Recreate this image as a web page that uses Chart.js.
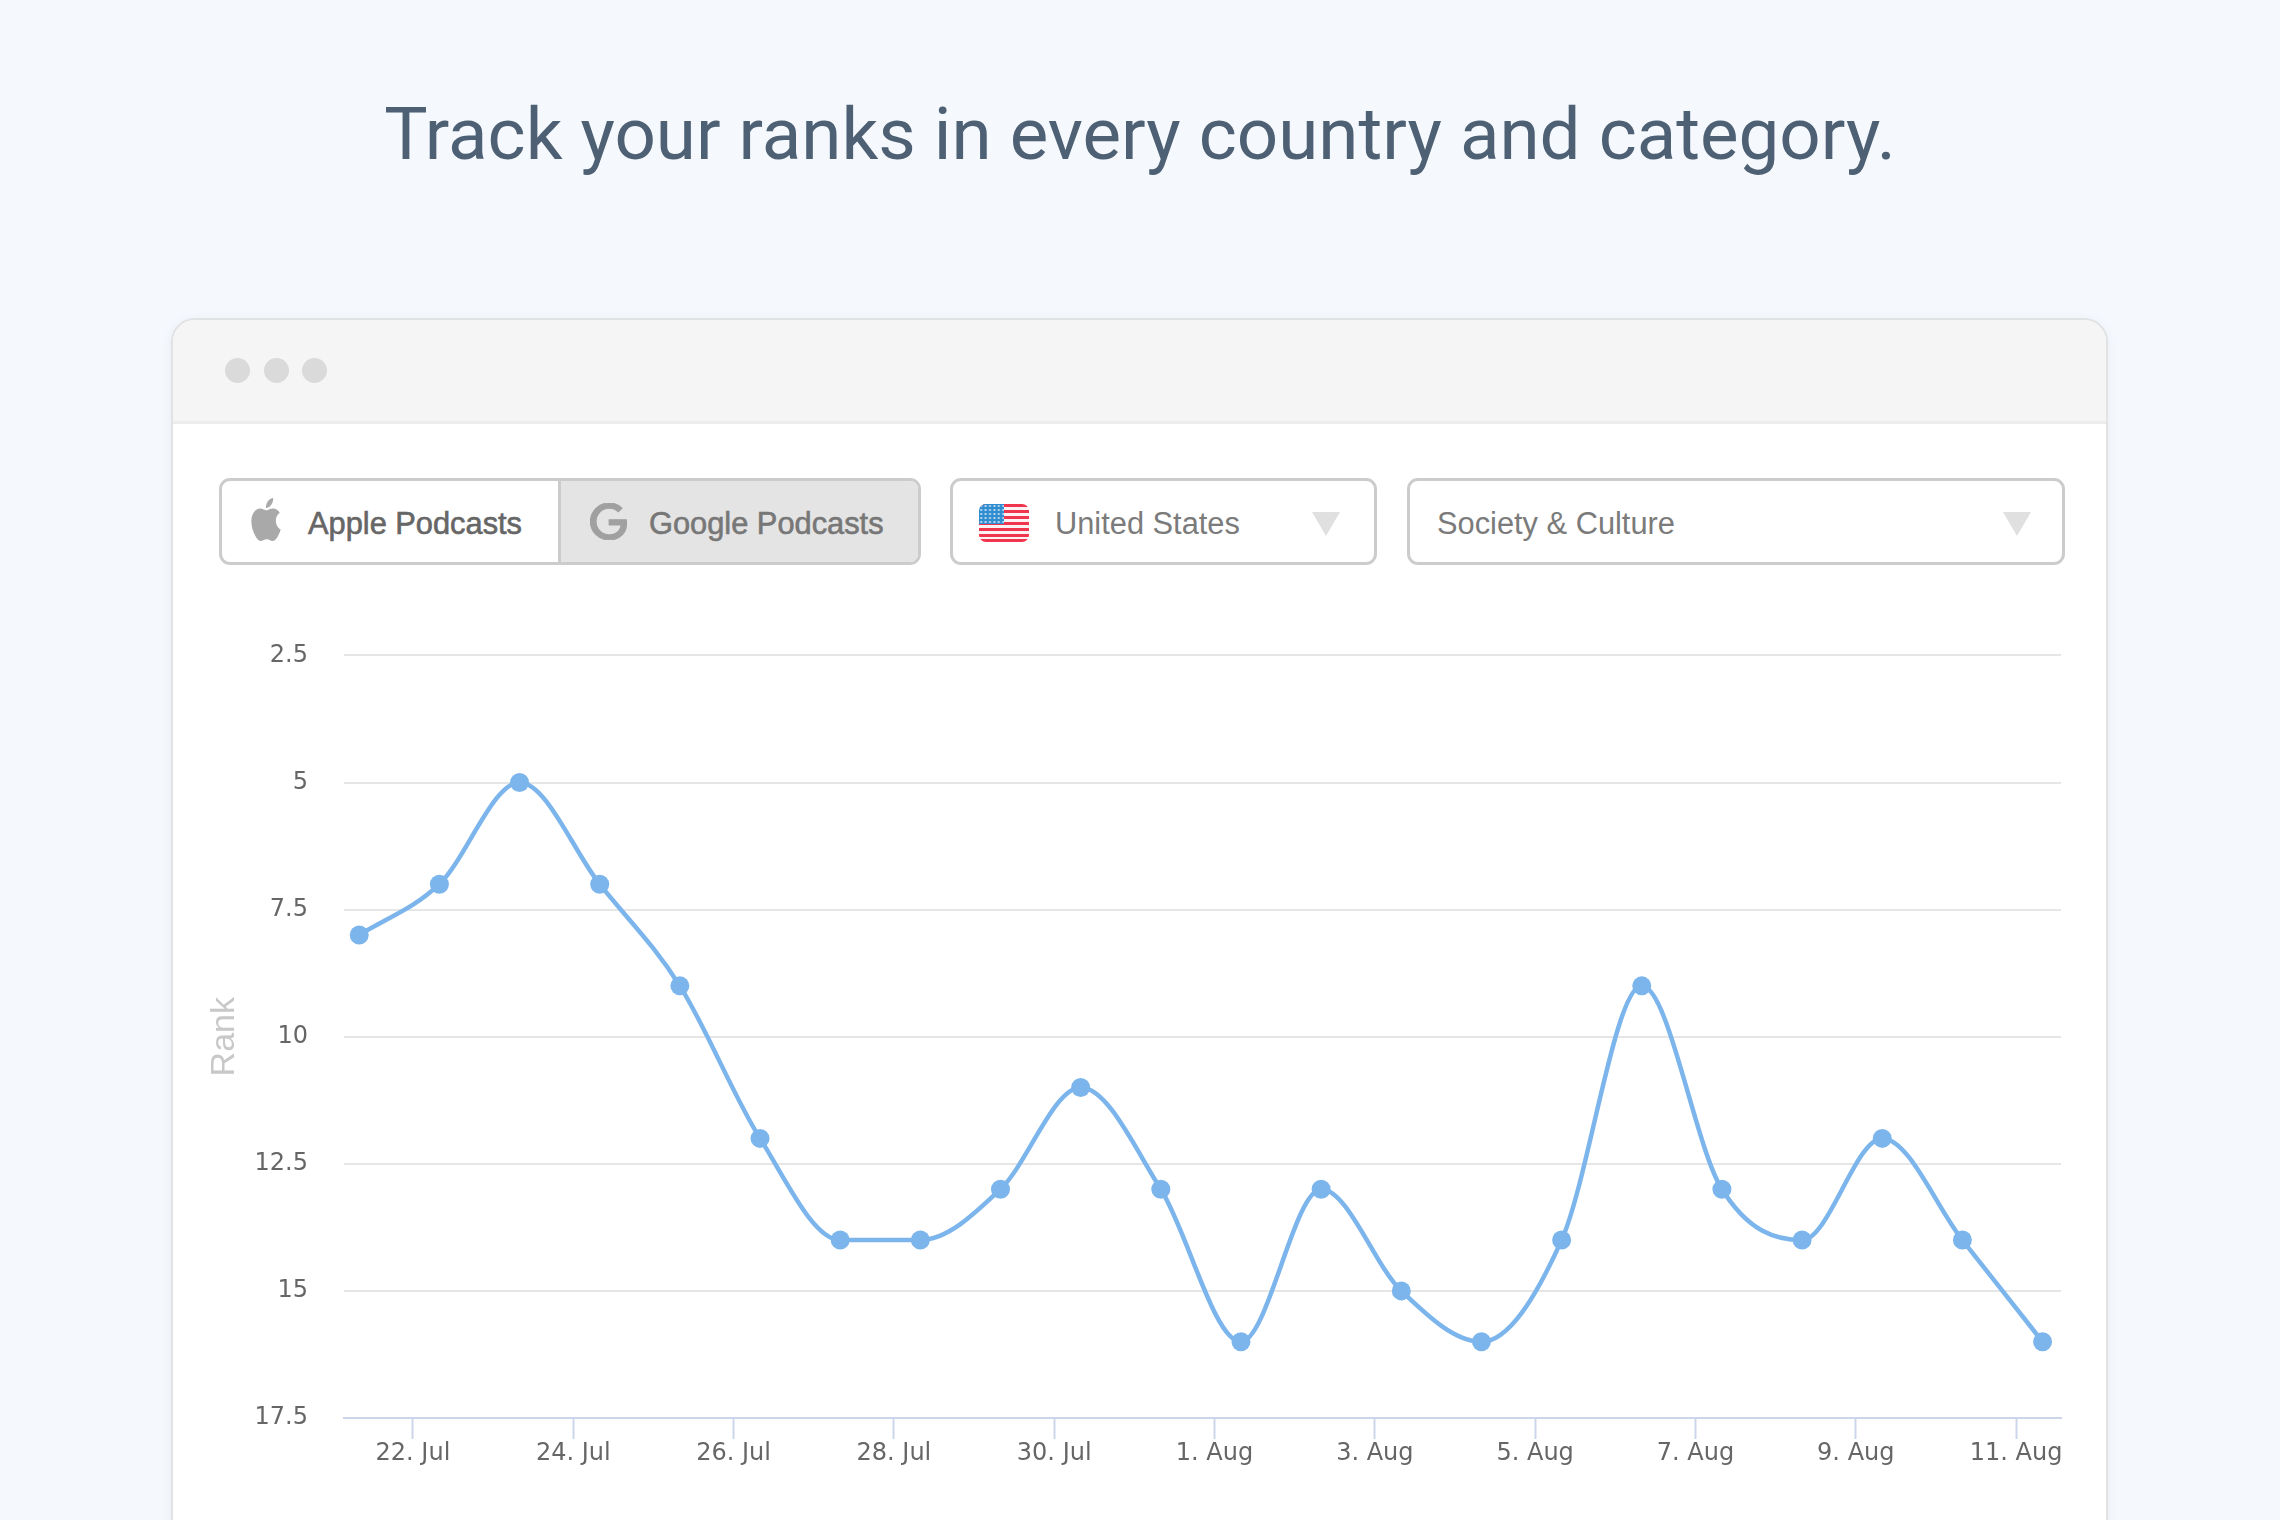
<!DOCTYPE html>
<html>
<head>
<meta charset="utf-8">
<title>Track your ranks</title>
<script src="https://cdn.jsdelivr.net/npm/chart.js@4"></script>
<style>
html, body { margin: 0; padding: 0; width: 2280px; height: 1520px; overflow: hidden; background: #f5f8fd; }
div, svg, canvas, h1 { position: absolute; box-sizing: border-box; }
#headline { left: 0; width: 2280px; top: 91px; margin: 0; text-align: center; font: 400 72.7px/88px Roboto, sans-serif; color: #4d6074; }
#frame { left: 171px; top: 318px; width: 1937px; height: 1300px; background: #fff; border: 2px solid #e0e2e4; border-radius: 24px; box-shadow: 0 2px 10px rgba(120,140,170,.10); overflow: hidden; }
#titlebar { left: 0; top: 0; width: 100%; height: 104px; background: #f5f5f5; border-bottom: 3px solid #ececec; }
.dot { width: 25px; height: 25px; top: 38px; border-radius: 50%; background: #dadada; }
.box { top: 478px; height: 87px; border: 3px solid #cccccc; border-radius: 11px; background: #fff; }
.label { top: 0; height: 81px; line-height: 84px; white-space: nowrap; }
.podcast { font: 400 30.8px/84px "Liberation Sans", sans-serif; -webkit-text-stroke: 0.6px currentColor; }
.select { font: 400 30.8px/84px "Liberation Sans", sans-serif; color: #7b7b7b; }
.arrow { width: 28px; height: 24px; top: 31px; }
#chartBox { left: 200px; top: 605px; width: 1880px; height: 915px; }
</style>
</head>
<body>
<h1 id="headline">Track your ranks in every country and category.</h1>

<div id="frame">
  <div id="titlebar">
    <div class="dot" style="left:52px"></div>
    <div class="dot" style="left:91px"></div>
    <div class="dot" style="left:129px"></div>
  </div>
</div>

<div class="box" style="left:219px;width:702px;overflow:hidden">
  <div style="left:336px;top:0;width:363px;height:81px;background:#e4e4e4;border-left:3px solid #cccccc"></div>
  <svg style="left:26px;top:17px" width="36" height="43" viewBox="0 0 24 24" preserveAspectRatio="none"><path fill="#a9a9a9" d="M12.152 6.896c-.948 0-2.415-1.078-3.96-1.04-2.04.027-3.91 1.183-4.961 3.014-2.117 3.675-.546 9.103 1.519 12.09 1.013 1.454 2.208 3.09 3.792 3.039 1.52-.065 2.09-.987 3.935-.987 1.831 0 2.35.987 3.96.948 1.637-.026 2.676-1.48 3.676-2.948 1.156-1.688 1.636-3.325 1.662-3.415-.039-.013-3.182-1.221-3.22-4.857-.026-3.04 2.48-4.494 2.597-4.559-1.429-2.09-3.623-2.324-4.39-2.376-2-.156-3.675 1.09-4.61 1.09zM15.53 3.83c.843-1.012 1.4-2.427 1.245-3.83-1.207.052-2.662.805-3.532 1.818-.78.896-1.454 2.338-1.273 3.714 1.338.104 2.715-.688 3.559-1.701"/></svg>
  <div class="label podcast" style="left:86px;top:1px;color:#666">Apple Podcasts</div>
  <svg style="left:368px;top:22px" width="37" height="37" viewBox="0 0 24 24"><path fill="#a0a0a0" stroke="#a0a0a0" stroke-width=".8" d="M12.48 10.92v3.28h7.84c-.24 1.84-.853 3.187-1.787 4.133-1.147 1.147-2.933 2.4-6.053 2.4-4.827 0-8.6-3.893-8.6-8.72s3.773-8.72 8.6-8.72c2.6 0 4.507 1.027 5.907 2.347l2.307-2.307C18.747 1.44 16.133 0 12.48 0 5.867 0 .307 5.387.307 12s5.56 12 12.173 12c3.573 0 6.267-1.173 8.373-3.36 2.16-2.16 2.84-5.213 2.84-7.667 0-.76-.053-1.467-.173-2.053H12.48z"/></svg>
  <div class="label podcast" style="left:427px;top:1px;color:#777">Google Podcasts</div>
</div>

<div class="box" style="left:950px;width:427px">
  <svg style="left:26px;top:23px" width="50" height="38" viewBox="0 0 50 38">
    <defs>
      <clipPath id="flagClip"><rect width="50" height="38" rx="7"/></clipPath>
      <pattern id="stars" width="4.4" height="4" patternUnits="userSpaceOnUse"><circle cx="2.2" cy="2" r="1.1" fill="#cfe4f5"/></pattern>
    </defs>
    <g clip-path="url(#flagClip)">
      <rect width="50" height="38" fill="#fdf2f3"/>
      <rect y="0" width="50" height="3" fill="#f0354f"/>
      <rect y="6" width="50" height="3" fill="#f0354f"/>
      <rect y="12" width="50" height="3" fill="#f0354f"/>
      <rect y="18" width="50" height="3" fill="#f0354f"/>
      <rect y="24" width="50" height="3" fill="#f0354f"/>
      <rect y="30" width="50" height="3" fill="#f0354f"/>
      <rect y="35" width="50" height="3" fill="#f0354f"/>
      <rect width="25" height="20" fill="#2f8dd0"/>
      <rect width="25" height="20" fill="url(#stars)"/>
    </g>
  </svg>
  <div class="label select" style="left:102px;top:1px">United States</div>
  <svg class="arrow" style="left:359px" viewBox="0 0 28 24"><path fill="#e0e0e0" d="M0 0H28L14 24Z"/></svg>
</div>

<div class="box" style="left:1407px;width:658px">
  <div class="label select" style="left:27px;top:1px">Society &amp; Culture</div>
  <svg class="arrow" style="left:593px" viewBox="0 0 28 24"><path fill="#e0e0e0" d="M0 0H28L14 24Z"/></svg>
</div>

<div id="chartBox"><canvas id="rankChart" width="1880" height="915"></canvas></div>

<script>
// days counted from 22 Jul, points sit a bit before the midnight ticks
const pointDays = [-0.67, 0.33, 1.33, 2.33, 3.33, 4.33, 5.33, 6.33, 7.33, 8.33, 9.33, 10.33, 11.33, 12.33, 13.33, 14.33, 15.33, 16.33, 17.33, 18.33, 19.33, 20.33];
const ranks = [8, 7, 5, 7, 9, 12, 14, 14, 13, 11, 13, 16, 13, 15, 16, 14, 9, 13, 14, 12, 14, 16];

const tickDays = [0, 2, 4, 6, 8, 10, 12, 14, 16, 18, 20];
const tickLabels = ["22. Jul", "24. Jul", "26. Jul", "28. Jul", "30. Jul", "1. Aug", "3. Aug", "5. Aug", "7. Aug", "9. Aug", "11. Aug"];
const rankTicks = [2.5, 5, 7.5, 10, 12.5, 15, 17.5];

const tickFont = { family: "'DejaVu Sans'", size: 24 };

new Chart(document.getElementById("rankChart"), {
    type: "scatter",
    data: {
        datasets: [{
            label: "Rank",
            data: pointDays.map((d, i) => ({ x: d, y: ranks[i] })),
            showLine: true,
            cubicInterpolationMode: "monotone",
            borderColor: "#7cb5ec",
            borderWidth: 4.5,
            backgroundColor: "#7cb5ec",
            pointRadius: 9.5,
            pointHoverRadius: 9.5,
            pointBorderWidth: 0,
            clip: false
        }]
    },
    options: {
        responsive: false,
        animation: false,
        events: [],
        layout: { padding: { left: 0, right: 19, top: 25, bottom: 0 } },
        plugins: { legend: { display: false }, tooltip: { enabled: false } },
        scales: {
            x: {
                type: "linear",
                min: -0.86,
                max: 20.56,
                afterBuildTicks: (axis) => { axis.ticks = tickDays.map(v => ({ value: v })); },
                afterFit: (axis) => { axis.height = 102; },
                border: { color: "#ccd6eb", width: 2 },
                grid: { drawOnChartArea: false, drawTicks: true, tickLength: 21, tickColor: "#ccd6eb", tickWidth: 2 },
                ticks: {
                    autoSkip: false,
                    maxRotation: 0,
                    padding: 0,
                    color: "#666666",
                    font: tickFont,
                    callback: (v) => tickLabels[tickDays.indexOf(v)]
                }
            },
            y: {
                type: "linear",
                reverse: true,
                min: 2.5,
                max: 17.5,
                afterBuildTicks: (axis) => { axis.ticks = rankTicks.map(v => ({ value: v })); },
                afterFit: (axis) => { axis.width = 144; },
                border: { display: false },
                grid: { color: "#e6e6e6", lineWidth: 2, drawTicks: false },
                title: {
                    display: true,
                    text: "Rank",
                    color: "#c8c8c8",
                    font: { family: "'Liberation Sans'", size: 34 },
                    padding: { top: 4, bottom: 0 }
                },
                ticks: {
                    padding: 36,
                    color: "#666666",
                    font: tickFont,
                    callback: (v) => String(v)
                }
            }
        }
    }
});
</script>
</body>
</html>
